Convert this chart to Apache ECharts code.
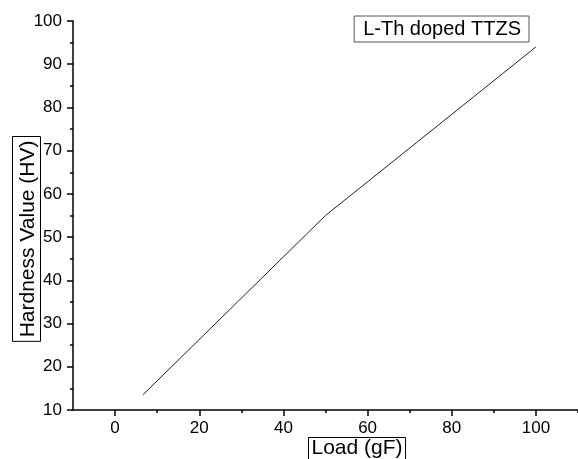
<!DOCTYPE html>
<html>
<head>
<meta charset="utf-8">
<script src="https://cdn.jsdelivr.net/npm/echarts@6/dist/echarts.min.js"></script>
<style>
html,body{margin:0;padding:0;background:#fff;}
#c{width:578px;height:459px;}
</style>
</head>
<body>
<div id="c"></div>
<script>
const loads = [6.6, 50, 100];
const hardness = [13.5, 55, 94];
const xMajorTicks = [0, 20, 40, 60, 80, 100];
const xMinorTicks = [10, 30, 50, 70, 90, 110];
const seriesName = 'L-Th doped TTZS';
const xTitle = 'Load (gF)';
const yTitle = 'Hardness Value (HV)';

const FONT = '"Liberation Sans", Arial, sans-serif';
const chart = echarts.init(document.getElementById('c'), null, {renderer: 'canvas'});
const data = loads.map((x, i) => [x, hardness[i]]);

chart.setOption({
  backgroundColor: '#fff',
  animation: false,
  grid: {left: 73, top: 21, right: -8, bottom: 49, containLabel: false},
  legend: {
    data: [{name: seriesName, icon: 'none'}],
    right: 49, top: 16,
    itemWidth: 0, itemHeight: 0, itemGap: 0,
    padding: [3, 8, 3, 4],
    borderColor: '#555', borderWidth: 1,
    textStyle: {fontFamily: FONT, fontSize: 20, color: '#000'}
  },
  xAxis: [{
    type: 'value', min: -10, max: 110, position: 'bottom',
    axisLine: {show: true, onZero: false, lineStyle: {color: '#000', width: 1.5}},
    axisTick: {show: true, inside: false, length: 6, customValues: xMajorTicks, lineStyle: {color: '#000', width: 1.5}},
    axisLabel: {show: true, customValues: xMajorTicks, margin: 10, fontFamily: FONT, fontSize: 17, color: '#000'},
    splitLine: {show: false}
  }, {
    type: 'value', min: -10, max: 110, position: 'bottom',
    axisLine: {show: false, onZero: false},
    axisTick: {show: true, inside: false, length: 3, customValues: xMinorTicks, lineStyle: {color: '#000', width: 1.5}},
    axisLabel: {show: false},
    splitLine: {show: false}
  }],
  yAxis: {
    type: 'value', min: 10, max: 100, interval: 10,
    axisLine: {show: true, onZero: false, lineStyle: {color: '#000', width: 1.5}},
    axisTick: {show: true, inside: false, length: 6, lineStyle: {color: '#000', width: 1.5}},
    minorTick: {show: true, splitNumber: 2, length: 3, lineStyle: {color: '#000', width: 1.5}},
    axisLabel: {margin: 11, fontFamily: FONT, fontSize: 17, color: '#000'},
    splitLine: {show: false},
    minorSplitLine: {show: false}
  },
  series: [{
    name: seriesName, type: 'line', xAxisIndex: 0, data: data,
    symbol: 'none', lineStyle: {color: '#222', width: 1},
    itemStyle: {color: '#222'}
  }],
  graphic: [{
    type: 'text', left: 12, top: 136, rotation: Math.PI / 2,
    style: {
      text: yTitle, font: '21px ' + FONT, fill: '#000',
      borderColor: '#000', borderWidth: 1, padding: [5, 4, 2, 4]
    }
  }, {
    type: 'text', left: 308, top: 437,
    style: {
      text: xTitle, font: '21px ' + FONT, fill: '#000',
      borderColor: '#000', borderWidth: 1, padding: [0, 3, 2, 3]
    }
  }]
});
</script>
</body>
</html>
